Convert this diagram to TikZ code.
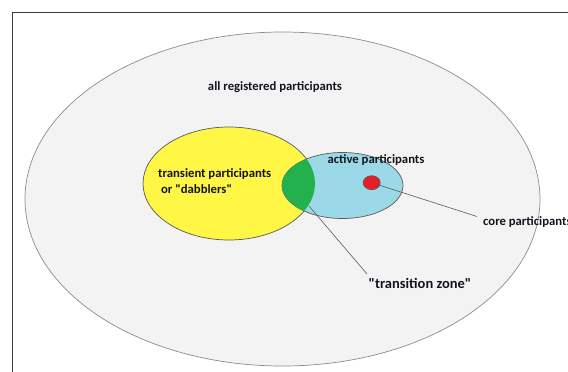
\documentclass[tikz,border=0pt]{standalone}
\usepackage{fontspec}
\setmainfont{Carlito}
\definecolor{frameclr}{RGB}{60,60,60}
\definecolor{allfill}{RGB}{243,243,243}
\definecolor{dabyellow}{RGB}{255,246,70}
\definecolor{actblue}{RGB}{156,217,232}
\definecolor{zonegreen}{RGB}{34,177,76}
\definecolor{corered}{RGB}{237,28,36}
\definecolor{lblclr}{RGB}{20,20,30}
\usetikzlibrary{shapes.geometric}

\begin{document}
\begin{tikzpicture}[x=1pt, y=-1pt,
        setell/.style={ellipse, draw=black!65, line width=0.7pt, inner sep=0pt},
        lbl/.style={font=\fontsize{12.7}{16}\selectfont\bfseries, text=lblclr, inner sep=0pt},
        pointer/.style={black!65, line width=0.6pt}
      ]
        \useasboundingbox (0,0) rectangle (568,372);
        % frame of the slide
        \draw[frameclr, line width=1.2pt] (12.7,372) -- (12.7,12.7) -- (568,12.7);

        % nested sets
        \node[setell, draw=black!45, fill=allfill,
              minimum width=515, minimum height=334] (all) at (282.5,199) {};
        \node[setell, fill=dabyellow,
              minimum width=172, minimum height=113] (dab) at (229,183.5) {};
        \node[setell, fill=actblue,
              minimum width=121, minimum height=66] (act) at (342.5,185.5) {};
        % overlap of dabblers and active ones
        \begin{scope}
          \clip (dab.center) ellipse [x radius=86, y radius=56.5];
          \fill[zonegreen] (act.center) ellipse [x radius=60.5, y radius=33];
        \end{scope}
        \node[setell, fill=corered,
              minimum width=17, minimum height=14] (core) at (371.7,182.7) {};

        % labels
        \node[lbl] (allLbl) at (275,87) {all registered participants};
        \node[lbl, align=left, anchor=west] (dabLbl) at (158,181)
          {transient participants\\\ or \textquotedbl dabblers\textquotedbl};
        \node[lbl] (actLbl) at (376,160) {active participants};
        \node[lbl, anchor=west] (coreLbl) at (483,222) {core participants};
        \node[lbl, font=\fontsize{14.5}{16}\selectfont\bfseries] (zoneLbl) at (420,283)
          {\textquotedbl transition zone\textquotedbl};

        \coordinate (lens) at (309,206);
        \draw[pointer] (core.center) -- (477,216.5);
        \draw[pointer] (lens) -- (367,274);
      \end{tikzpicture}
\end{document}
